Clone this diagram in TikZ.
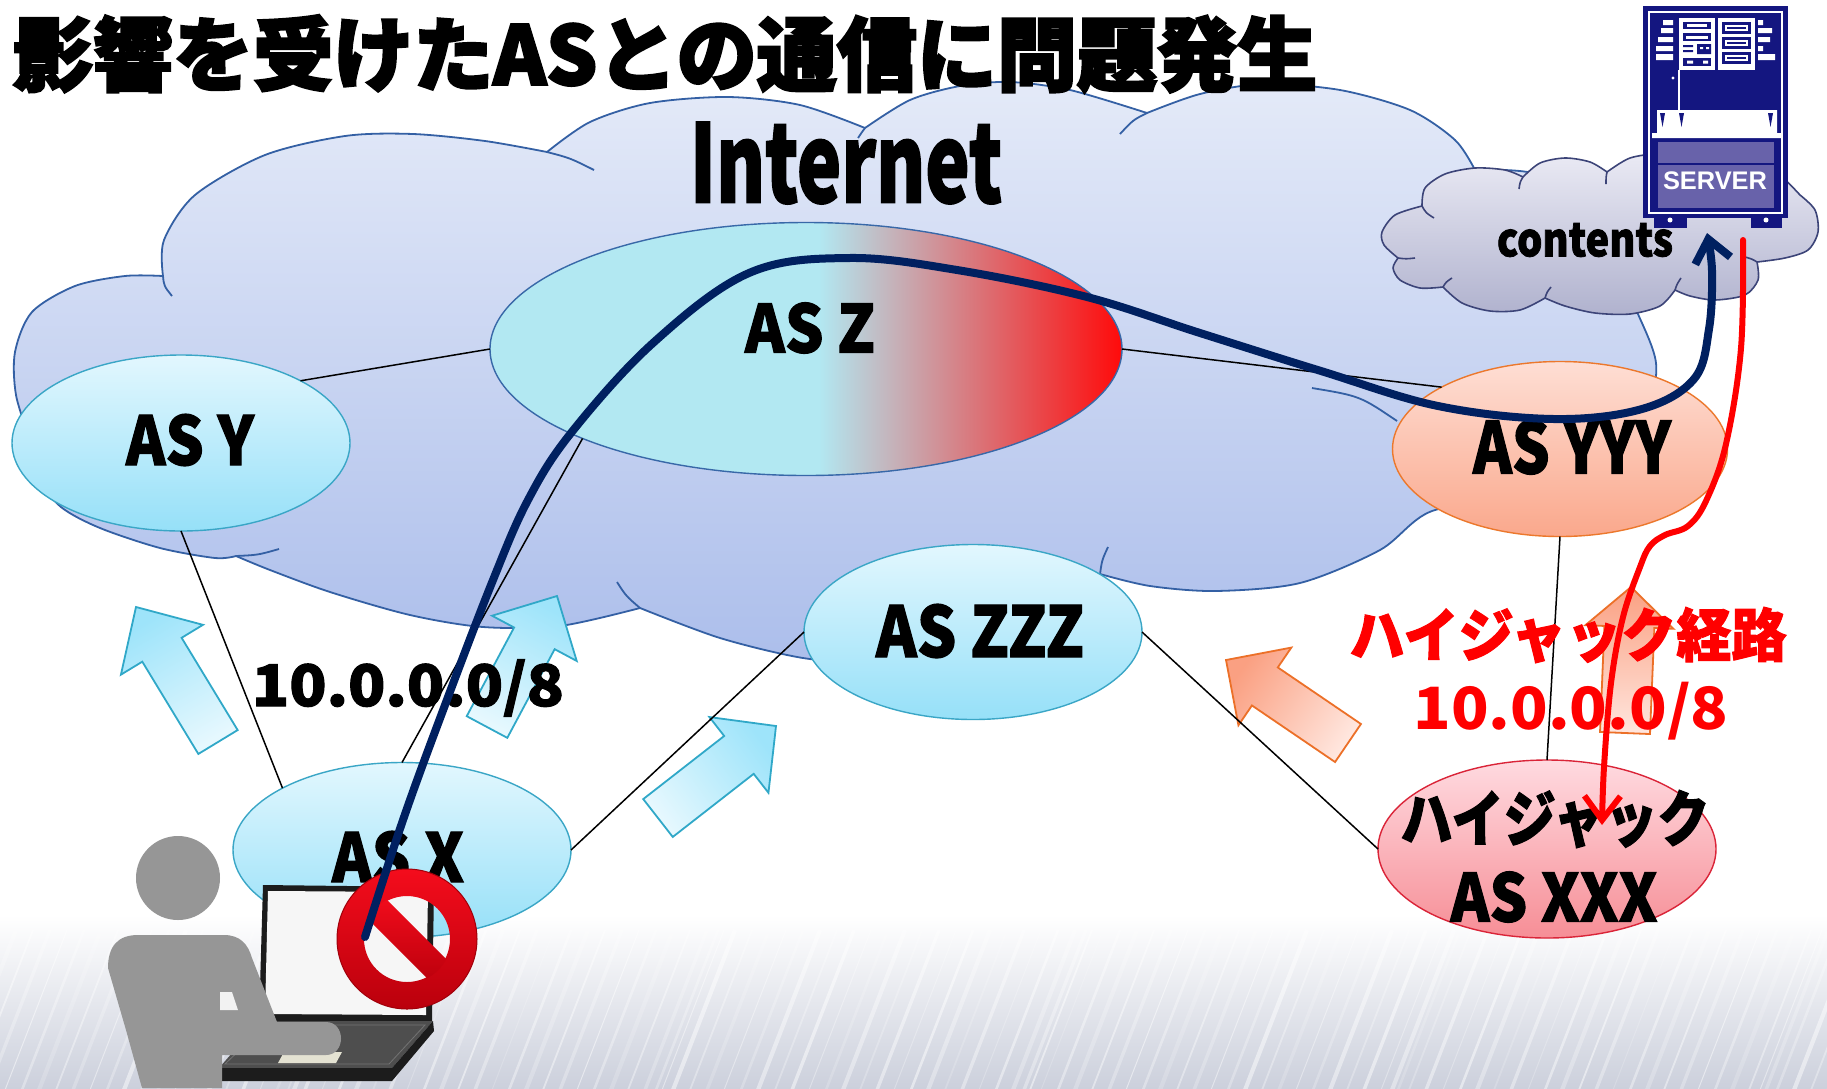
\documentclass[tikz,border=0pt]{standalone}
\usepackage{fontspec}
\usepackage{graphicx}
\usetikzlibrary{shapes.geometric,calc,arrows.meta}

\newfontfamily\titlefont{Noto Sans CJK JP}[BoldFeatures={FakeBold=3}]
\newfontfamily\labelfont{Noto Sans CJK JP}[BoldFeatures={FakeBold=1.8}]
\newfontfamily\medfont{Noto Sans CJK JP}
\newfontfamily\srvfont{Liberation Sans}

\definecolor{cloudTop}{RGB}{228,234,248}
\definecolor{cloudBot}{RGB}{172,190,235}
\definecolor{cloudLine}{RGB}{52,96,164}
\definecolor{ctTop}{RGB}{234,234,244}
\definecolor{ctBot}{RGB}{176,178,206}
\definecolor{ctLine}{RGB}{60,68,120}
\definecolor{asBlueTop}{RGB}{226,247,254}
\definecolor{asBlueBot}{RGB}{150,224,248}
\definecolor{asBlueLine}{RGB}{58,166,198}
\definecolor{asZLine}{RGB}{56,104,168}
\definecolor{asOrTop}{RGB}{254,222,212}
\definecolor{asOrBot}{RGB}{250,168,140}
\definecolor{asOrLine}{RGB}{236,120,44}
\definecolor{asRdTop}{RGB}{255,218,224}
\definecolor{asRdBot}{RGB}{246,142,150}
\definecolor{asRdLine}{RGB}{218,36,56}
\definecolor{arBlueTip}{RGB}{158,228,250}
\definecolor{arBlueTail}{RGB}{230,248,254}
\definecolor{arBlueLine}{RGB}{48,168,200}
\definecolor{arOrTip}{RGB}{250,160,130}
\definecolor{arOrTail}{RGB}{255,230,222}
\definecolor{arOrLine}{RGB}{236,112,40}
\definecolor{pathNavy}{RGB}{0,32,96}
\definecolor{hijackRed}{RGB}{255,0,0}
\definecolor{srvNavy}{RGB}{20,22,128}
\definecolor{srvPurple}{RGB}{104,98,170}
\definecolor{personGray}{RGB}{150,150,150}
\definecolor{lapFrame}{RGB}{28,28,28}
\definecolor{lapScreen}{RGB}{246,246,246}
\definecolor{lapBase}{RGB}{78,78,78}
\definecolor{lapPad}{RGB}{228,226,210}
\definecolor{signTop}{RGB}{244,12,28}
\definecolor{signBot}{RGB}{186,0,12}
\definecolor{signEdge}{RGB}{160,0,10}
\definecolor{bgGray}{RGB}{204,208,220}

% cyan on the left half, fading to red on the right
\pgfdeclarehorizontalshading{asZshade}{100bp}{%
  rgb(0bp)=(0.698,0.910,0.949); rgb(51bp)=(0.698,0.910,0.949);
  rgb(75bp)=(1,0.04,0.04); rgb(100bp)=(1,0.04,0.04)}

\newcommand\fit[3]{\resizebox*{#1}{#2}{#3}}

% block arrow: options, tail, tip, half shaft width, half head width, head length
\newcommand\blockarrow[6]{%
  \coordinate (#2n) at ($(#3)!#6!(#2)$);
  \path[#1] ($(#2)!#4!90:(#3)$) -- ($(#2n)!#4!90:(#3)$) -- ($(#2n)!#5!90:(#3)$)
    -- (#3) -- ($(#2n)!#5!-90:(#3)$) -- ($(#2n)!#4!-90:(#3)$)
    -- ($(#2)!#4!-90:(#3)$) -- cycle;}

\tikzset{
  lbl/.style={inner sep=0pt, outer sep=0pt, anchor=center, font=\labelfont\bfseries},
  asnode/.style={ellipse, inner sep=0pt, outer sep=0pt, line width=1.4pt},
  asblue/.style={asnode, draw=asBlueLine, top color=asBlueTop, bottom color=asBlueBot},
  asorange/.style={asnode, draw=asOrLine, top color=asOrTop, bottom color=asOrBot},
  asred/.style={asnode, draw=asRdLine, top color=asRdTop, bottom color=asRdBot},
  conn/.style={draw=black, line width=1.5pt},
  cloudtail/.style={draw=cloudLine, line width=1.8pt},
  cttail/.style={draw=ctLine, line width=1.6pt},
  bluearrow/.style={draw=arBlueLine, line width=1.8pt, top color=arBlueTip, bottom color=arBlueTail},
  orangearrow/.style={draw=arOrLine, line width=1.8pt, top color=arOrTip, bottom color=arOrTail},
  route/.style={line width=8pt, draw=pathNavy, line cap=round, -{Straight Barb[length=22pt,width=36pt]}},
  hijack/.style={line width=6pt, draw=hijackRed, line cap=round, -{Straight Barb[length=24pt,width=36pt]}},
}

\begin{document}
\begin{tikzpicture}[x=1pt,y=-1pt]
\useasboundingbox (0,0) rectangle (1827,1088);
\fill[white] (0,0) rectangle (1827,1088);

% streaked grey floor
\shade[top color=white, bottom color=bgGray] (0,915) rectangle (1827,1088);
\foreach \i in {0,...,120} {
  \pgfmathsetmacro\xa{\i*16 + mod(\i*47,23) - 80}
  \pgfmathsetmacro\lw{1 + mod(\i*7,5)*0.8}
  \pgfmathsetmacro\op{0.18 + mod(\i*11,7)*0.05}
  \draw[white, line width=\lw pt, opacity=\op] (\xa,1090) -- (\xa+62,930);
}

% the Internet cloud
\shade[top color=cloudTop, bottom color=cloudBot, draw=cloudLine, line width=1.8pt, line join=round]
  plot[smooth] coordinates {(30,440) (16,395) (15,352) (32,312) (75,286) (125,276) (163,276)}
  --plot[smooth] coordinates {(163,276) (164,240) (195,195) (265,155) (345,136) (413,134) (485,141) (547,152)}
  --plot[smooth] coordinates {(547,152) (590,122) (650,103) (728,97) (800,105) (865,128)}
  --plot[smooth] coordinates {(865,128) (910,100) (960,86) (1010,82) (1070,90) (1147,113)}
  --plot[smooth] coordinates {(1147,113) (1200,94) (1263,84) (1340,90) (1410,110) (1455,140) (1475,170)}
  --plot[smooth] coordinates {(1475,170) (1540,175) (1600,220) (1632,300) (1656,363) (1645,420) (1610,470)}
  --plot[smooth] coordinates {(1610,470) (1530,495) (1432,511) (1380,550) (1300,583) (1216,591) (1150,586) (1100,574)}
  --plot[smooth] coordinates {(1100,574) (1050,625) (960,655) (870,662) (803,658) (720,638) (640,608)}
  --plot[smooth] coordinates {(640,608) (560,626) (483,627) (410,615) (330,592) (270,570) (236,556)}
  --plot[smooth] coordinates {(236,556) (215,558) (160,548) (100,528) (61,507) (35,475) (30,440)}
  -- cycle;
\draw[cloudtail] (163,276) .. controls (164,286) .. (172,296);
\draw[cloudtail] (547,152) .. controls (570,158) .. (594,170);
\draw[cloudtail] (865,128) .. controls (862,132) .. (858,138);
\draw[cloudtail] (1147,113) .. controls (1133,120) .. (1120,134);
\draw[cloudtail] (1312,388) .. controls (1360,396) .. (1397,421);
\draw[cloudtail] (1108,547) .. controls (1102,560) .. (1100,574);
\draw[cloudtail] (617,582) .. controls (626,596) .. (640,608);
\draw[cloudtail] (236,556) .. controls (258,555) .. (279,549);

% the contents cloud
\shade[top color=ctTop, bottom color=ctBot, draw=ctLine, line width=1.6pt, line join=round]
  plot[smooth] coordinates {(1398,258) (1384,245) (1382,232) (1395,215) (1422,206)}
  --plot[smooth] coordinates {(1422,206) (1425,188) (1445,174) (1475,168) (1505,170) (1523,177)}
  --plot[smooth] coordinates {(1523,177) (1540,163) (1565,158) (1590,162) (1607,172)}
  --plot[smooth] coordinates {(1607,172) (1630,158) (1660,154) (1690,160) (1700,168)}
  --plot[smooth] coordinates {(1700,168) (1740,163) (1775,172) (1800,195)}
  --plot[smooth] coordinates {(1800,195) (1815,210) (1818,232) (1808,250) (1785,258) (1757,262)}
  --plot[smooth] coordinates {(1757,262) (1758,280) (1745,295) (1715,300) (1690,296) (1675,290)}
  --plot[smooth] coordinates {(1675,290) (1660,306) (1630,314) (1595,313) (1565,306) (1545,298)}
  --plot[smooth] coordinates {(1545,298) (1520,310) (1490,311) (1462,303) (1443,287)}
  --plot[smooth] coordinates {(1443,287) (1420,288) (1400,280) (1393,268) (1398,258)}
  -- cycle;
\draw[cttail] (1422,206) .. controls (1426,213) .. (1434,218);
\draw[cttail] (1523,177) .. controls (1520,182) .. (1519,189);
\draw[cttail] (1607,172) .. controls (1606,177) .. (1606,184);
\draw[cttail] (1757,262) .. controls (1752,259) .. (1745,257);
\draw[cttail] (1675,290) .. controls (1677,284) .. (1681,278);
\draw[cttail] (1545,298) .. controls (1547,292) .. (1551,287);
\draw[cttail] (1443,287) .. controls (1446,282) .. (1452,278);
\draw[cttail] (1398,258) .. controls (1406,259) .. (1415,258);
\node[lbl] (contents-l) at (1585,240) {\fit{176pt}{34pt}{contents}};

% server rack
\fill[srvNavy] (1643,6) rectangle (1788,218);
\fill[srvNavy] (1654,212) rectangle (1687,228);
\fill[srvNavy] (1751,212) rectangle (1782,228);
\draw[white, line width=2.5pt] (1649,12) rectangle (1782,213);
\fill[white] (1670,220) circle[radius=2.5];
\fill[white] (1766,220) circle[radius=2.5];
\fill[white] (1679,18) rectangle (1715,70);
\fill[white] (1718,18) rectangle (1755,70);
\fill[srvNavy] (1683,22) rectangle (1711,29);
\fill[white] (1687,24) rectangle (1707,26.5);
\fill[srvNavy] (1683,33) rectangle (1711,41);
\fill[white] (1686,35.5) rectangle (1708,38.5);
\fill[srvNavy] (1683,45) rectangle (1693,47) (1683,50) rectangle (1693,52) (1697,44) rectangle (1711,54);
\fill[white] (1700,47) rectangle (1703,49) (1706,47) rectangle (1709,49);
\fill[srvNavy] (1683,58) rectangle (1711,66);
\fill[white] (1687,60.5) rectangle (1693,63.5) (1703,60.5) rectangle (1708,63.5);
\foreach \yy in {22,37,52} {
  \fill[srvNavy] (1722,\yy) rectangle (1751,\yy+12);
  \fill[white] (1725,\yy+3) rectangle (1748,\yy+9);
  \fill[srvNavy] (1727,\yy+5) rectangle (1746,\yy+7);
}
\fill[white] (1663,20) rectangle (1673,25) (1661,28) rectangle (1673,33) (1658,37) rectangle (1673,42)
  (1656,46) rectangle (1673,51) (1656,54) rectangle (1673,60);
\fill[white] (1758,20) rectangle (1763,25) (1758,28) rectangle (1772,33) (1758,37) rectangle (1770,42)
  (1758,46) rectangle (1763,51) (1758,54) rectangle (1775,60);
\draw[white, line width=1.5pt] (1679,70) -- (1679,110);
\fill[white] (1673,78) circle[radius=1.6];
\fill[white] (1657,110) -- (1777,110) -- (1777,133) -- (1781,133) -- (1781,138) -- (1652,138)
  -- (1652,133) -- (1657,133) -- cycle;
\fill[srvNavy] (1660,113) -- (1665,113) -- (1662.5,127) -- cycle
  (1679,113) -- (1684,113) -- (1681.5,127) -- cycle
  (1768,113) -- (1773,113) -- (1770.5,127) -- cycle;
\fill[srvPurple] (1658,142) rectangle (1774,208);
\draw[srvNavy, line width=1.5pt] (1658,164) -- (1774,164);
\node[inner sep=0pt, font=\srvfont\bfseries, text=white] (server-l) at (1715,181) {\fit{104pt}{18pt}{SERVER}};

% block arrows announcing the prefix
\coordinate (ba1t) at (218,742); \coordinate (ba1p) at (136,607);
\blockarrow{bluearrow, shading angle=30}{ba1t}{ba1p}{23pt}{48pt}{50pt}
\coordinate (ba2t) at (487,727); \coordinate (ba2p) at (557,596);
\blockarrow{bluearrow, shading angle=-28}{ba2t}{ba2p}{23pt}{48pt}{48pt}
\coordinate (ba3t) at (658,818); \coordinate (ba3p) at (776,726);
\blockarrow{bluearrow, shading angle=-54}{ba3t}{ba3p}{24pt}{48pt}{47pt}
\coordinate (oa1t) at (1348,743); \coordinate (oa1p) at (1226,660);
\blockarrow{orangearrow, shading angle=56}{oa1t}{oa1p}{23pt}{47pt}{47pt}
\coordinate (oa2t) at (1625,733); \coordinate (oa2p) at (1631,587);
\blockarrow{orangearrow}{oa2t}{oa2p}{25pt}{44pt}{40pt}

% autonomous systems
\node[asblue, minimum width=338pt, minimum height=176pt] (asy) at (181,443) {};
\node[asnode, minimum width=632pt, minimum height=253pt, draw=asZLine, shade, shading=asZshade] (asz) at (806,349) {};
\node[asblue, minimum width=338pt, minimum height=175pt] (aszzz) at (973,632) {};
\node[asblue, minimum width=338pt, minimum height=175pt] (asx) at (402,850) {};
\node[asorange, minimum width=335pt, minimum height=175pt] (asyyy) at (1560,449) {};
\node[asred, minimum width=338pt, minimum height=178pt] (asxxx) at (1547,849) {};

% peering links
\draw[conn] (asy.north east) -- (asz.west);
\draw[conn] (asz.east) -- (asyyy.north west);
\draw[conn] (asy.south) -- (asx.north west);
\draw[conn] (asz.south west) -- (asx.north);
\draw[conn] (asx.east) -- (aszzz.west);
\draw[conn] (aszzz.east) -- (asxxx.west);
\draw[conn] (asyyy.south) -- (asxxx.north);

% texts
\node[lbl, anchor=north west, font=\titlefont\bfseries] (title) at (13,15) {\fit{1304pt}{78pt}{影響を受けたASとの通信に問題発生}};
\node[lbl] (internet-l) at (846,163) {\fit{312pt}{82pt}{Internet}};
\node[lbl] (asy-l) at (190,440) {\fit{128pt}{52pt}{AS Y}};
\node[lbl] (asz-l) at (810,328) {\fit{130pt}{51pt}{AS Z}};
\node[lbl] (aszzz-l) at (980,631) {\fit{208pt}{54pt}{AS ZZZ}};
\node[lbl] (asx-l) at (398,857) {\fit{132pt}{52pt}{AS X}};
\node[lbl] (asyyy-l) at (1572,447) {\fit{198pt}{55pt}{AS YYY}};
\node[lbl] (asxxx-l1) at (1555,819) {\fit{309pt}{58pt}{ハイジャック}};
\node[lbl] (asxxx-l2) at (1554,897) {\fit{207pt}{51pt}{AS XXX}};
\node[lbl, text=hijackRed] (hj-l) at (1568,635) {\fit{437pt}{56pt}{ハイジャック経路}};
\node[lbl, text=hijackRed, font=\medfont\bfseries] (hj-pfx) at (1571,711) {\fit{315pt}{58pt}{10.0.0.0/8}};
\node[lbl] (pfx) at (408,688) {\fit{312pt}{57pt}{10.0.0.0/8}};

% laptop
\fill[lapFrame] (263,885) -- (434,887) -- (432,1022) -- (259,1021) -- cycle;
\fill[lapScreen] (268,891) -- (428,892) -- (426,1015) -- (265,1014) -- cycle;
\fill[lapBase] (260,1021) -- (433,1021) -- (392,1068) -- (219,1068) -- cycle;
\draw[black!55, line width=0.8pt] (266,1025) -- (425,1025) -- (389,1064) -- (225,1064) -- cycle;
\fill[lapFrame] (219,1068) -- (392,1068) -- (392,1081) -- (221,1081) -- cycle;
\fill[lapFrame] (392,1068) -- (433,1021) -- (434,1031) -- (392,1081) -- cycle;
\fill[lapPad] (284,1052) -- (342,1052) -- (336,1063) -- (278,1063) -- cycle;

% user at the keyboard
\fill[personGray] (178,878) circle[radius=42];
\fill[personGray] (108,968) .. controls (108,946) and (118,935) .. (138,935) -- (224,935)
  .. controls (240,935) and (248,944) .. (252,958) -- (277,1022) -- (326,1022)
  .. controls (346,1022) and (346,1055) .. (326,1055) -- (222,1055) -- (222,1088)
  -- (142,1088) -- (126,1030) -- cycle;
\fill[white!90!gray] (220,992) -- (232,992) -- (238,1010) -- (220,1010) -- cycle;

% no-entry sign
\shade[top color=signTop, bottom color=signBot, even odd rule]
  (407,939) circle[radius=70] (407,939) circle[radius=43];
\begin{scope}
  \clip (407,939) circle[radius=44];
  \shade[top color=signTop, bottom color=signBot]
    (381.2,894.1) -- (362.1,913.2) -- (432.8,983.9) -- (451.9,964.8) -- cycle;
\end{scope}
\draw[signEdge, line width=1pt] (407,939) circle[radius=70];

% normal route and hijacked route
\coordinate (user) at (365,937);
\coordinate (srv-in) at (1707,233);
\draw[route] plot[smooth, tension=0.6] coordinates {(user) (403,820) (445,705) (493,580) (528,500)
  (571,433) (653,343) (749,273) (849,258) (957,270) (1087,297) (1200,333) (1321,371) (1438,406)
  (1554,419) (1642,409) (1694,379) (1709,329) (1712,271) (srv-in)};
\coordinate (srv-out) at (1743,240);
\coordinate (hj-in) at (1602,825);
\draw[hijack] plot[smooth, tension=0.6] coordinates {(srv-out) (1741,348) (1726,444) (1706,501)
  (1688,526) (1665,535) (1650,546) (1640,567) (1623,617) (1611,683) (1604,767) (hj-in)};
\end{tikzpicture}
\end{document}
